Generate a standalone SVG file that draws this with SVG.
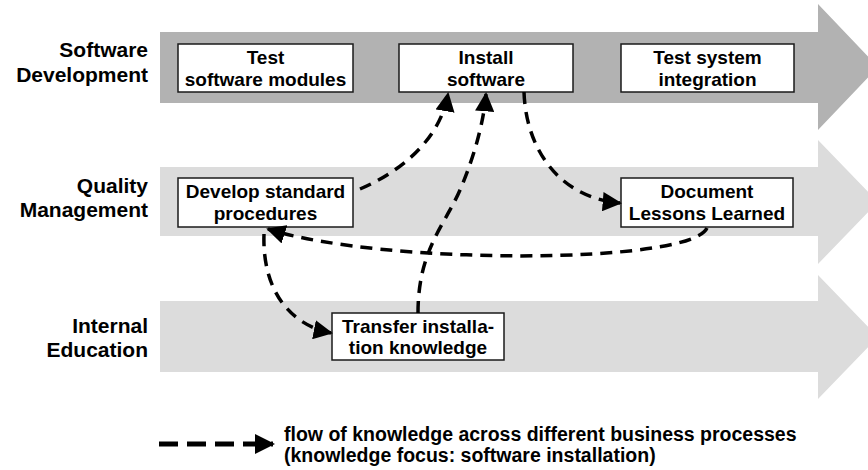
<svg xmlns="http://www.w3.org/2000/svg" width="868" height="470" viewBox="0 0 868 470">
  <style>
    .lane-dark { fill: #b2b2b2; }
    .lane-light { fill: #dcdcdc; }
    .lane-label { font-family: "Liberation Sans", Arial, sans-serif; font-weight: bold; font-size: 21px; fill: #000; text-anchor: end; }
    .box rect { fill: #fff; stroke: #1a1a1a; stroke-width: 1.5; }
    .box text { font-family: "Liberation Sans", Arial, sans-serif; font-weight: bold; font-size: 19px; fill: #000; text-anchor: middle; }
    .flow { fill: none; stroke: #000; stroke-width: 3.5; stroke-dasharray: 12 8; marker-end: url(#head); }
    .legend-text { font-family: "Liberation Sans", Arial, sans-serif; font-weight: bold; font-size: 19.5px; fill: #000; }
  </style>
  <defs>
    <marker id="head" viewBox="0 0 10 10" refX="9" refY="5" markerWidth="5.5" markerHeight="5.5" markerUnits="strokeWidth" orient="auto">
      <path d="M0,0 L10,5 L0,10 Z" fill="#000"/>
    </marker>
    <marker id="head-legend" viewBox="0 0 10 10" refX="9" refY="5" markerWidth="4" markerHeight="4" markerUnits="strokeWidth" orient="auto">
      <path d="M0,0 L10,5 L0,10 Z" fill="#000"/>
    </marker>
  </defs>

  <!-- process lanes -->
  <g id="lanes">
    <polygon class="lane-dark" points="160,32 818,32 818,4 878,67 818,130 818,103 160,103"/>
    <polygon class="lane-light" points="160,167 818,167 818,140 878,202 818,264 818,236 160,236"/>
    <polygon class="lane-light" points="160,301 818,301 818,275 878,337 818,399 818,372 160,372"/>
  </g>

  <g id="lane-labels">
    <text class="lane-label" x="148" y="57">Software</text>
    <text class="lane-label" x="148" y="82">Development</text>
    <text class="lane-label" x="148" y="193">Quality</text>
    <text class="lane-label" x="148" y="217">Management</text>
    <text class="lane-label" x="148" y="333">Internal</text>
    <text class="lane-label" x="148" y="357">Education</text>
  </g>

  <!-- activities -->
  <g id="test-modules" class="box">
    <rect x="178" y="44" width="175" height="48"/>
    <text x="265.5" y="64">Test</text>
    <text x="265.5" y="86">software modules</text>
  </g>
  <g id="install-software" class="box">
    <rect x="399" y="44" width="174" height="48"/>
    <text x="486" y="64">Install</text>
    <text x="486" y="86">software</text>
  </g>
  <g id="test-integration" class="box">
    <rect x="621" y="44" width="173" height="48"/>
    <text x="707.5" y="64">Test system</text>
    <text x="707.5" y="86">integration</text>
  </g>
  <g id="develop-procedures" class="box">
    <rect x="178" y="178" width="175" height="49"/>
    <text x="265.5" y="198">Develop standard</text>
    <text x="265.5" y="220">procedures</text>
  </g>
  <g id="lessons-learned" class="box">
    <rect x="621" y="178" width="172" height="49"/>
    <text x="707" y="198">Document</text>
    <text x="707" y="220">Lessons Learned</text>
  </g>
  <g id="transfer-knowledge" class="box">
    <rect x="332" y="313" width="172" height="47"/>
    <text x="418" y="333">Transfer installa-</text>
    <text x="418" y="354">tion knowledge</text>
  </g>

  <!-- knowledge flows -->
  <g id="connectors">
    <path class="flow" d="M360,189 C400,172 440,140 448,94"/>
    <path class="flow" d="M418,313 C418,250 445,225 460,190 C475,155 484,120 486,94"/>
    <path class="flow" d="M524,92 C526,150 560,198 620,203"/>
    <path class="flow" d="M707,228 C690,265 380,265 268,229"/>
    <path class="flow" d="M264,234 C262,290 290,325 331,333"/>
  </g>

  <!-- legend -->
  <g id="legend">
    <line x1="159" y1="444" x2="273" y2="444" stroke="#000" stroke-width="5" stroke-dasharray="19 9" marker-end="url(#head-legend)"/>
    <text class="legend-text" x="284" y="441">flow of knowledge across different business processes</text>
    <text class="legend-text" x="284" y="462">(knowledge focus: software installation)</text>
  </g>
</svg>
